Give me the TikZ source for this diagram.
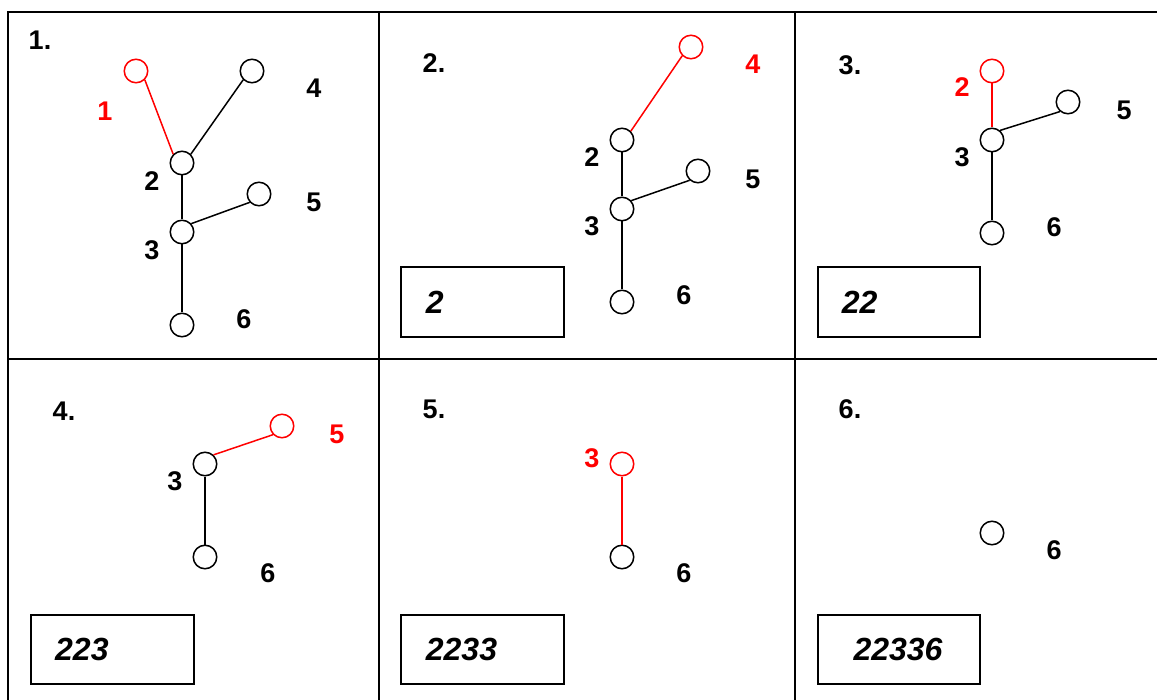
\documentclass[tikz,border=0pt]{standalone}
\usepackage{fontspec}
\setmainfont{Liberation Sans}
\begin{document}
\begin{tikzpicture}[x=1pt,y=-1pt,
 vtx/.style={circle,draw=black,fill=white,minimum size=23.5pt,inner sep=0pt,line width=1.5pt},
 rvtx/.style={vtx,draw=red},
 lbl/.style={font=\fontsize{27}{30}\selectfont\bfseries,inner sep=0pt},
 rlbl/.style={lbl,text=red},
 link/.style={line width=1.5pt,draw=black},
 rlink/.style={line width=1.5pt,draw=red},
 ansbox/.style={draw,line width=2pt,minimum width=162.7pt,minimum height=69.5pt,inner sep=0pt},
 anstext/.style={font=\fontsize{32}{36}\selectfont\bfseries\itshape,inner sep=0pt,anchor=west},
 frameline/.style={line width=2pt}]
\useasboundingbox (0,0) rectangle (1157,700);
\begin{scope}
\clip (0,0) rectangle (1157,700);
\draw[frameline] (8,12) rectangle (1180,730);
\draw[frameline] (379,12) -- (379,730);
\draw[frameline] (795,12) -- (795,730);
\draw[frameline] (8,359) -- (1180,359);
\end{scope}

% Panel titles
\node[lbl] (t1) at (40,40) {1.};
\node[lbl] (t2) at (434,63) {2.};
\node[lbl] (t3) at (850,65) {3.};
\node[lbl] (t4) at (64,411) {4.};
\node[lbl] (t5) at (434,409) {5.};
\node[lbl] (t6) at (850,409) {6.};

% Panel 1
\node[rvtx] (p1a) at (136,71) {};
\node[vtx] (p1d) at (252,71) {};
\node[vtx] (p1b) at (182,163) {};
\node[vtx] (p1e) at (259,194) {};
\node[vtx] (p1c) at (182,232) {};
\node[vtx] (p1f) at (182,325) {};
\draw[rlink] (p1a.-45) -- (p1b.135);
\draw[link] (p1d.225) -- (p1b.45);
\draw[link] (p1b) -- (p1c);
\draw[link] (p1c.42) -- (p1e.222);
\draw[link] (p1c) -- (p1f);
\node[rlbl] (l1a) at (105,111) {1};
\node[lbl] (l1d) at (314,88) {4};
\node[lbl] (l1b) at (152,181) {2};
\node[lbl] (l1e) at (314,202) {5};
\node[lbl] (l1c) at (152,250) {3};
\node[lbl] (l1f) at (244,319) {6};

% Panel 2
\node[rvtx] (p2d) at (691,47) {};
\node[vtx] (p2b) at (622,140) {};
\node[vtx] (p2e) at (698,171) {};
\node[vtx] (p2c) at (622,209) {};
\node[vtx] (p2f) at (622,302) {};
\draw[rlink] (p2d.225) -- (p2b.45);
\draw[link] (p2b) -- (p2c);
\draw[link] (p2c.42) -- (p2e.228);
\draw[link] (p2c) -- (p2f);
\node[rlbl] (l2d) at (753,64) {4};
\node[lbl] (l2b) at (592,157) {2};
\node[lbl] (l2e) at (753,179) {5};
\node[lbl] (l2c) at (592,226) {3};
\node[lbl] (l2f) at (684,295) {6};
\node[ansbox] (b2) at (482.7,302) {};
\node[anstext] (a2) at (425.7,302) {2};

% Panel 3
\node[rvtx] (p3b) at (992,71) {};
\node[vtx] (p3c) at (992,140) {};
\node[vtx] (p3e) at (1068,102) {};
\node[vtx] (p3f) at (992,233) {};
\draw[rlink] (p3b) -- (p3c);
\draw[link] (p3c.50) -- (p3e.230);
\draw[link] (p3c) -- (p3f);
\node[rlbl] (l3b) at (962,87) {2};
\node[lbl] (l3e) at (1124,110) {5};
\node[lbl] (l3c) at (962,157) {3};
\node[lbl] (l3f) at (1054,227) {6};
\node[ansbox] (b3) at (899,302) {};
\node[anstext] (a3) at (841.7,302) {22};

% Panel 4
\node[rvtx] (p4e) at (282,426) {};
\node[vtx] (p4c) at (205,464) {};
\node[vtx] (p4f) at (205,557) {};
\draw[rlink] (p4c.47) -- (p4e.224);
\draw[link] (p4c) -- (p4f);
\node[rlbl] (l4e) at (337,434) {5};
\node[lbl] (l4c) at (175,481) {3};
\node[lbl] (l4f) at (268,573) {6};
\node[ansbox] (b4) at (112.5,649.3) {};
\node[anstext] (a4) at (55,649) {223};

% Panel 5
\node[rvtx] (p5c) at (622,464) {};
\node[vtx] (p5f) at (622,557) {};
\draw[rlink] (p5c) -- (p5f);
\node[rlbl] (l5c) at (592,458) {3};
\node[lbl] (l5f) at (684,573) {6};
\node[ansbox] (b5) at (482.7,649.3) {};
\node[anstext] (a5) at (425.7,649) {2233};

% Panel 6
\node[vtx] (p6f) at (992,533) {};
\node[lbl] (l6f) at (1054,550) {6};
\node[ansbox] (b6) at (899,649.3) {};
\node[anstext] (a6) at (853.3,649) {22336};
\end{tikzpicture}
\end{document}
